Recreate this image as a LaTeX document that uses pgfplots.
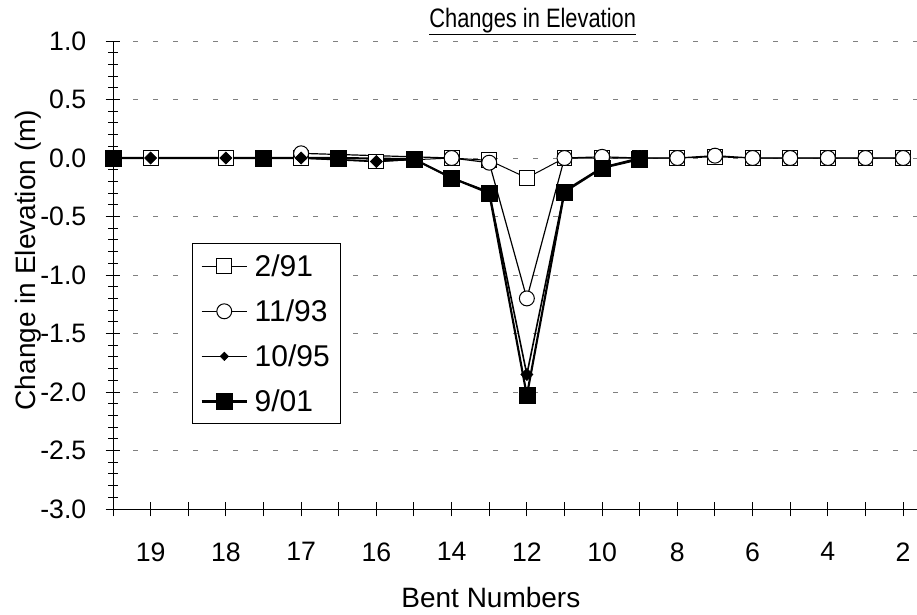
\documentclass[border=0pt]{standalone}
\usepackage{fontspec}
\setmainfont{Liberation Sans}
\usepackage{graphicx}
\usepackage{pgfplots}
\pgfplotsset{compat=1.18}
\begin{document}
\begin{tikzpicture}
\begin{axis}[
  at={(84.75pt,-381.75pt)}, anchor=south west,
  scale only axis, width=603pt, height=351pt,
  xmin=0, xmax=21.37, ymin=-3, ymax=1,
  clip=false,
  axis x line*=bottom, axis y line*=left,
  axis line style={black, line width=0.75pt},
  tick align=center,
  major tick length=11pt, minor tick length=7.5pt,
  tick style={black, line width=0.75pt},
  xtick={0,1,...,21},
  xticklabels={,19,,18,,17,,16,,14,,12,,10,,8,,6,,4,,2},
  ytick={-3,-2.5,-2,-1.5,-1,-0.5,0,0.5,1},
  minor y tick num=4,
  /pgf/number format/assume math mode=true,
  y tick label style={/pgf/number format/fixed, /pgf/number format/fixed zerofill, /pgf/number format/precision=1, xshift=-11pt},
  x tick label style={yshift=-16pt},
  ticklabel style={font=\fontsize{20}{24}\selectfont},
  ymajorgrids,
  grid style={gray, line width=0.75pt, dash pattern=on 3.75pt off 11.25pt},
  title={\scalebox{0.82}[1]{\underline{Changes in Elevation}}},
  title style={at={(0.522,1.0128)}, anchor=base, font=\fontsize{20}{24}\selectfont},
  xlabel={Bent Numbers},
  xlabel style={at={(0.470,-0.188)}, anchor=center, font=\fontsize{21}{25}\selectfont},
  ylabel={Change in Elevation (m)},
  ylabel style={at={(-0.1057,0.532)}, anchor=center, font=\fontsize{21}{25}\selectfont},
  legend style={at={(0.0983,0.568)}, anchor=north west, draw=black, line width=0.75pt,
    font=\fontsize{22.5}{27}\selectfont, inner xsep=6pt, inner ysep=6pt, row sep=12pt,
    column sep=3pt, cells={anchor=west}},
  legend image code/.code={\draw[mark repeat=2,mark phase=2] plot coordinates {(0pt,0pt) (17pt,0pt) (34pt,0pt)};},
]
\addplot[black, line width=0.75pt, mark=square*, mark size=5.6pt, mark options={fill=white, line width=0.75pt}]
coordinates {(1,0) (3,0) (5,0) (7,-0.03) (9,0) (10,-0.02) (11,-0.17) (12,0) (13,0) (14,0) (15,0) (16,0.01) (17,0) (18,0) (19,0) (20,0) (21,0)};
\addlegendentry{2/91}
\addplot[black, line width=0.9pt, mark=*, mark size=5.6pt, mark options={fill=white, line width=0.75pt}]
coordinates {(5,0.04) (9,0) (10,-0.04) (11,-1.20) (12,0) (13,0.01) (14,0) (15,0) (16,0.02) (17,0) (18,0) (19,0) (20,0) (21,0)};
\addlegendentry{11/93}
\addplot[black, line width=1.2pt, mark=square*, mark size=3.2pt, mark options={fill=black, rotate=45, line width=0.5pt}, legend image post style={mark size=2.2pt}]
coordinates {(1,0) (3,0) (5,0) (7,-0.03) (8,-0.01) (9,-0.17) (10,-0.29) (11,-1.85) (12,-0.28) (13,-0.08) (14,0)};
\addlegendentry{10/95}
\addplot[black, line width=1.6pt, mark=square*, mark size=6pt, mark options={fill=black, line width=0.5pt}]
coordinates {(0,0) (4,0) (6,0) (8,-0.01) (9,-0.17) (10,-0.30) (11,-2.03) (12,-0.29) (13,-0.085) (14,-0.01)};
\addlegendentry{9/01}
\end{axis}
\pgfresetboundingbox
\useasboundingbox (0,0) rectangle (687.75pt,-460.5pt);
\end{tikzpicture}
\end{document}
